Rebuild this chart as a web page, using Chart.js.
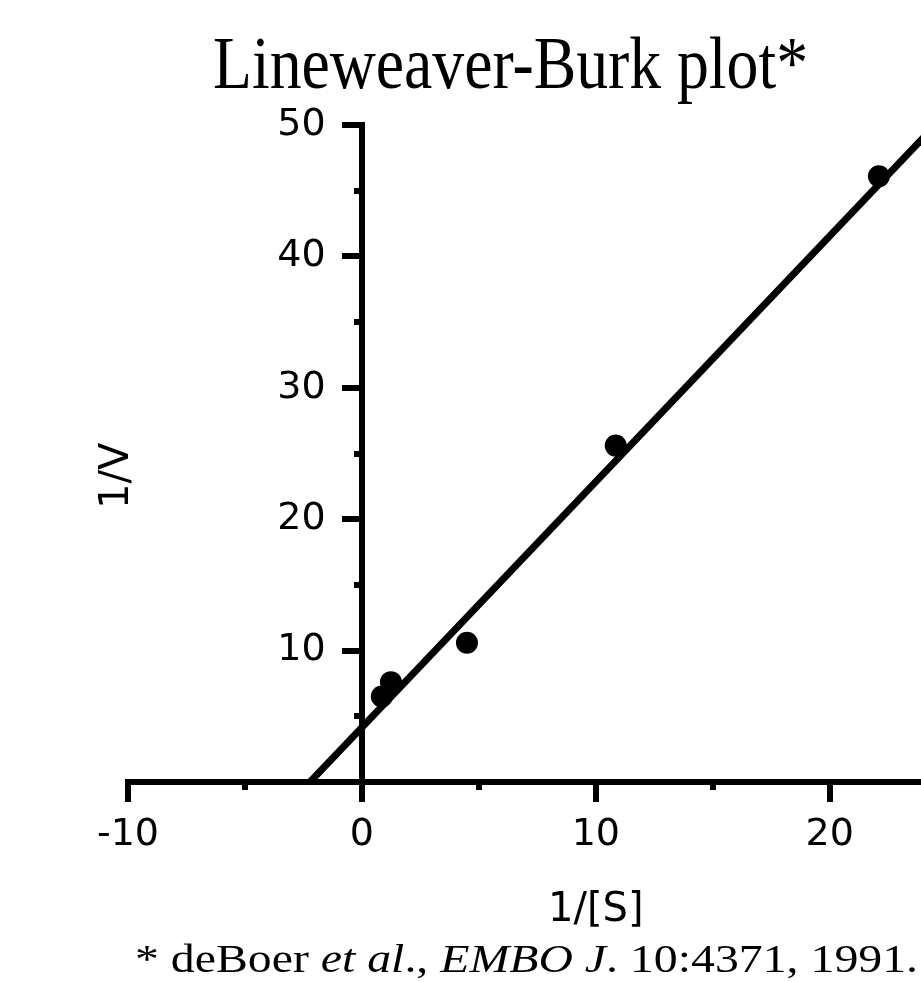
<!DOCTYPE html>
<html>
<head>
<meta charset="utf-8">
<script src="https://cdn.jsdelivr.net/npm/chart.js@4.4.0/dist/chart.umd.min.js"></script>
<style>
  html, body { margin: 0; padding: 0; background: #fff; overflow: hidden; }
  canvas { display: block; }
</style>
</head>
<body>
<canvas id="lbChart" width="921" height="982"></canvas>
<script>
// measured points, 1/[S] against 1/V
const invS = [0.85, 1.24, 4.49, 10.85, 22.1];
const invV = [6.5, 7.6, 10.6, 25.6, 46.1];

// fitted line, read where it meets the x axis and past the right edge
const fitX = [-2.22, 24.5];
const fitY = [0, 49.97];

// axis ranges and tick steps
const xMin = -10, xMax = 23.9;
const yMin = 0, yMax = 50;
const majorStep = 10;
const minorStep = 5;

const titleText = 'Lineweaver-Burk plot*';
const xTitle = '1/[S]';
const yTitle = '1/V';
const footnoteParts = [
    { t: '* deBoer ', italic: false },
    { t: 'et al', italic: true },
    { t: '., ', italic: false },
    { t: 'EMBO J', italic: true },
    { t: '. 10:4371, 1991.', italic: false }
];

const tickFont = { family: 'DejaVu Sans', size: 38 };

// draws text squeezed/stretched horizontally to a measured width
function fitText(ctx, parts, size, left, baseline, width) {
    const fontFor = p => (p.italic ? 'italic ' : '') + size + 'px "Liberation Serif", "Times New Roman", serif';
    let total = 0;
    parts.forEach(p => { ctx.font = fontFor(p); total += ctx.measureText(p.t).width; });
    const s = width / total;
    ctx.save();
    ctx.translate(left, baseline);
    ctx.scale(s, 1);
    ctx.textAlign = 'left';
    ctx.textBaseline = 'alphabetic';
    let cx = 0;
    parts.forEach(p => {
        ctx.font = fontFor(p);
        ctx.fillText(p.t, cx, 0);
        cx += ctx.measureText(p.t).width;
    });
    ctx.restore();
}

const textPlugin = {
    id: 'textPlugin',
    afterDraw(chart) {
        const ctx = chart.ctx;
        const xs = chart.scales.x;
        const ys = chart.scales.y;
        ctx.save();
        ctx.fillStyle = '#000';

        fitText(ctx, [{ t: titleText, italic: false }], 73, 213, 88, 595);
        fitText(ctx, footnoteParts, 40, 135, 972, 783);

        // axis titles
        ctx.font = '40px "DejaVu Sans"';
        ctx.textAlign = 'center';
        ctx.textBaseline = 'alphabetic';
        ctx.fillText(xTitle, xs.getPixelForValue(10), 921);

        ctx.translate(128, ys.getPixelForValue(23.3));
        ctx.rotate(-Math.PI / 2);
        ctx.fillText(yTitle, 0, 0);
        ctx.restore();
    }
};

function axisGrid(len) {
    return {
        drawOnChartArea: false,
        drawTicks: true,
        tickLength: len,
        lineWidth: 6,
        tickWidth: 6,
        color: '#000',
        tickColor: '#000'
    };
}

// axes sit inside the plot, so label overhang should not shrink the plot area
function noSidePadding(scale) {
    scale.paddingLeft = 0;
    scale.paddingRight = 0;
}

const ctx = document.getElementById('lbChart').getContext('2d');
const chart = new Chart(ctx, {
    type: 'scatter',
    data: {
        datasets: [
            {
                label: 'data',
                data: invS.map((x, i) => ({ x: x, y: invV[i] })),
                backgroundColor: '#000',
                borderColor: '#000',
                borderWidth: 0,
                pointRadius: 11,
                pointHoverRadius: 11
            },
            {
                label: 'fit',
                data: fitX.map((x, i) => ({ x: x, y: fitY[i] })),
                showLine: true,
                borderColor: '#000',
                borderWidth: 7,
                pointRadius: 0,
                fill: false
            }
        ]
    },
    options: {
        responsive: false,
        animation: false,
        events: [],
        layout: { autoPadding: false, padding: { left: 128, right: 0, top: 125, bottom: 200 } },
        plugins: {
            legend: { display: false },
            tooltip: { enabled: false },
            title: { display: false }
        },
        scales: {
            x: {
                type: 'linear',
                axis: 'x',
                min: xMin,
                max: xMax,
                position: { y: 0 },
                afterFit: noSidePadding,
                border: { display: true, color: '#000', width: 6 },
                grid: axisGrid(17),
                ticks: {
                    stepSize: majorStep,
                    includeBounds: false,
                    autoSkip: false,
                    maxRotation: 0,
                    padding: 13,
                    color: '#000',
                    font: tickFont
                }
            },
            xMinor: {
                type: 'linear',
                axis: 'x',
                min: xMin,
                max: xMax,
                position: { y: 0 },
                afterFit: noSidePadding,
                border: { display: false },
                grid: axisGrid(8),
                ticks: {
                    stepSize: minorStep,
                    includeBounds: false,
                    autoSkip: false,
                    maxRotation: 0,
                    callback: () => ''
                }
            },
            y: {
                type: 'linear',
                axis: 'y',
                min: yMin,
                max: yMax,
                position: { x: 0 },
                afterFit: noSidePadding,
                border: { display: true, color: '#000', width: 6 },
                grid: axisGrid(17),
                ticks: {
                    stepSize: majorStep,
                    includeBounds: false,
                    autoSkip: false,
                    color: '#000',
                    font: tickFont,
                    // labels of an axis placed at x = 0 sit right on the line, so pad them with spaces
                    callback: v => (v === 0 ? '' : v + '   ')
                }
            },
            yMinor: {
                type: 'linear',
                axis: 'y',
                min: yMin,
                max: yMax,
                position: { x: 0 },
                afterFit: noSidePadding,
                border: { display: false },
                grid: axisGrid(8),
                ticks: {
                    stepSize: minorStep,
                    includeBounds: false,
                    autoSkip: false,
                    callback: () => ''
                }
            }
        }
    },
    plugins: [textPlugin]
});
</script>
</body>
</html>
